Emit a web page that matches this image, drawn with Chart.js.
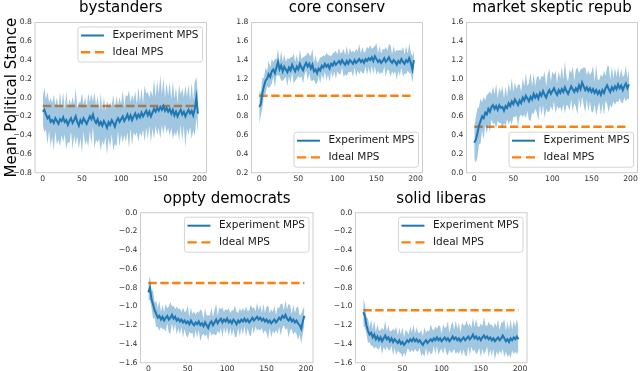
<!DOCTYPE html>
<html>
<head>
<meta charset="utf-8">
<script src="https://cdn.jsdelivr.net/npm/chart.js@4.4.1/dist/chart.umd.min.js"></script>
<style>
  html, body { margin: 0; padding: 0; background: #fff; }
  #wrap { position: relative; width: 640px; height: 371px; }
  #wrap canvas { position: absolute; left: 0; top: 0; }
</style>
</head>
<body>
<div id="wrap"></div>
<script>
// ─── Data ─────────────────────────────────────────────────────
// Simulation step of every sample (x axis)
const steps = [
  0, 2, 4, 6, 8, 10, 12, 14, 16, 18,
  20, 22, 24, 26, 28, 30, 32, 34, 36, 38,
  40, 42, 44, 46, 48, 50, 52, 54, 56, 58,
  60, 62, 64, 66, 68, 70, 72, 74, 76, 78,
  80, 82, 84, 86, 88, 90, 92, 94, 96, 98,
  100, 102, 104, 106, 108, 110, 112, 114, 116, 118,
  120, 122, 124, 126, 128, 130, 132, 134, 136, 138,
  140, 142, 144, 146, 148, 150, 152, 154, 156, 158,
  160, 162, 164, 166, 168, 170, 172, 174, 176, 178,
  180, 182, 184, 186, 188, 190, 192, 194, 196, 198,
];

const xTicks = [0, 50, 100, 150, 200];
const xLimits = [-9.95, 208.95];

// bystanders
const bystandersMean = [
  -0.15,-0.13,-0.18,-0.22,-0.20,-0.26,-0.24,-0.27,-0.22,-0.25,
  -0.28,-0.23,-0.25,-0.21,-0.26,-0.24,-0.29,-0.25,-0.22,-0.27,
  -0.24,-0.20,-0.26,-0.30,-0.24,-0.27,-0.22,-0.25,-0.28,-0.24,
  -0.20,-0.23,-0.18,-0.24,-0.27,-0.23,-0.29,-0.26,-0.30,-0.25,
  -0.28,-0.32,-0.26,-0.29,-0.24,-0.27,-0.31,-0.25,-0.22,-0.26,
  -0.23,-0.20,-0.25,-0.22,-0.18,-0.23,-0.19,-0.24,-0.20,-0.17,
  -0.22,-0.18,-0.21,-0.16,-0.20,-0.17,-0.14,-0.19,-0.15,-0.20,
  -0.16,-0.12,-0.15,-0.11,-0.14,-0.10,-0.13,-0.09,-0.14,-0.11,
  -0.15,-0.12,-0.17,-0.13,-0.19,-0.15,-0.20,-0.16,-0.13,-0.18,
  -0.15,-0.20,-0.16,-0.13,-0.17,-0.14,-0.19,-0.12, 0.00,-0.17,
];
const bystandersSpread = [
  0.14,0.24,0.16,0.28,0.15,0.26,0.18,0.30,0.14,0.25,
  0.17,0.29,0.15,0.27,0.13,0.31,0.18,0.24,0.14,0.28,
  0.16,0.30,0.15,0.25,0.19,0.32,0.14,0.26,0.17,0.29,
  0.15,0.27,0.13,0.30,0.18,0.25,0.15,0.31,0.16,0.26,
  0.14,0.29,0.17,0.24,0.15,0.30,0.18,0.27,0.14,0.26,
  0.16,0.28,0.15,0.25,0.19,0.31,0.14,0.27,0.17,0.24,
  0.15,0.29,0.16,0.26,0.14,0.30,0.18,0.25,0.15,0.28,
  0.17,0.32,0.15,0.29,0.18,0.34,0.16,0.30,0.14,0.27,
  0.17,0.29,0.15,0.31,0.18,0.26,0.14,0.30,0.16,0.28,
  0.15,0.33,0.17,0.27,0.14,0.30,0.16,0.29,0.22,0.20,
];
const bystandersIdeal = -0.09;
const bystandersYTicks = [-0.8, -0.6, -0.4, -0.2, 0.0, 0.2, 0.4, 0.6, 0.8];

// core conserv
const coreMean = [
  0.90,0.93,1.05,1.12,1.18,1.20,1.25,1.22,1.28,1.30,
  1.26,1.32,1.38,1.30,1.34,1.28,1.33,1.30,1.27,1.32,
  1.29,1.35,1.31,1.28,1.33,1.30,1.36,1.32,1.29,1.34,
  1.37,1.33,1.36,1.31,1.35,1.28,1.30,1.26,1.31,1.29,
  1.34,1.32,1.36,1.33,1.35,1.31,1.36,1.34,1.38,1.35,
  1.37,1.39,1.36,1.40,1.37,1.35,1.39,1.36,1.40,1.38,
  1.36,1.40,1.37,1.39,1.41,1.38,1.40,1.37,1.41,1.39,
  1.42,1.40,1.43,1.39,1.44,1.41,1.38,1.40,1.37,1.39,
  1.42,1.38,1.40,1.43,1.39,1.37,1.40,1.38,1.35,1.39,
  1.37,1.41,1.38,1.36,1.40,1.38,1.42,1.37,1.30,1.40,
];
const coreSpread = [
  0.18,0.12,0.16,0.09,0.14,0.08,0.15,0.10,0.13,0.08,
  0.15,0.09,0.14,0.07,0.16,0.10,0.13,0.08,0.15,0.09,
  0.14,0.08,0.16,0.10,0.13,0.07,0.15,0.09,0.14,0.10,
  0.08,0.15,0.10,0.13,0.17,0.09,0.15,0.11,0.08,0.14,
  0.09,0.13,0.08,0.15,0.10,0.14,0.08,0.13,0.10,0.15,
  0.09,0.14,0.11,0.08,0.15,0.10,0.16,0.09,0.13,0.10,
  0.14,0.08,0.15,0.10,0.16,0.09,0.14,0.11,0.08,0.15,
  0.10,0.16,0.09,0.14,0.11,0.17,0.09,0.15,0.10,0.13,
  0.09,0.16,0.10,0.14,0.17,0.09,0.15,0.10,0.16,0.11,
  0.14,0.09,0.16,0.10,0.15,0.09,0.16,0.11,0.14,0.10,
];
const coreIdeal = 1.02;
const coreYTicks = [0.2, 0.4, 0.6, 0.8, 1.0, 1.2, 1.4, 1.6, 1.8];

// market skeptic repub
const marketMean = [
  0.32,0.35,0.42,0.50,0.55,0.60,0.58,0.64,0.62,0.68,
  0.65,0.70,0.72,0.68,0.71,0.67,0.72,0.69,0.70,0.66,
  0.71,0.69,0.74,0.71,0.76,0.73,0.78,0.75,0.72,0.77,
  0.74,0.80,0.77,0.82,0.79,0.76,0.81,0.78,0.84,0.80,
  0.83,0.79,0.85,0.82,0.87,0.83,0.80,0.85,0.88,0.84,
  0.87,0.90,0.86,0.83,0.88,0.85,0.89,0.86,0.91,0.87,
  0.84,0.88,0.92,0.89,0.86,0.90,0.87,0.93,0.89,0.96,
  0.92,0.88,0.91,0.87,0.90,0.86,0.89,0.85,0.88,0.84,
  0.87,0.83,0.88,0.85,0.90,0.93,0.89,0.86,0.91,0.88,
  0.92,0.89,0.94,0.90,0.93,0.88,0.92,0.95,0.90,0.94,
];
const marketSpread = [
  0.18,0.24,0.26,0.20,0.24,0.15,0.23,0.13,0.21,0.16,
  0.22,0.13,0.20,0.15,0.24,0.12,0.19,0.16,0.23,0.13,
  0.21,0.12,0.22,0.15,0.25,0.13,0.19,0.14,0.22,0.17,
  0.12,0.21,0.15,0.24,0.13,0.20,0.26,0.14,0.22,0.12,
  0.19,0.24,0.13,0.21,0.15,0.25,0.12,0.20,0.23,0.13,
  0.21,0.14,0.23,0.12,0.20,0.15,0.24,0.13,0.28,0.15,
  0.13,0.22,0.14,0.24,0.12,0.20,0.25,0.13,0.21,0.15,
  0.20,0.24,0.13,0.22,0.14,0.21,0.25,0.12,0.27,0.15,
  0.12,0.22,0.14,0.24,0.13,0.20,0.25,0.13,0.22,0.12,
  0.20,0.13,0.19,0.11,0.18,0.14,0.12,0.19,0.11,0.16,
];
const marketIdeal = 0.49;
const marketYTicks = [0.0, 0.2, 0.4, 0.6, 0.8, 1.0, 1.2, 1.4, 1.6];

// oppty democrats
const opptyMean = [
  -0.85,-0.80,-0.92,-0.98,-1.04,-1.08,-1.12,-1.10,-1.14,-1.11,
  -1.15,-1.12,-1.10,-1.14,-1.12,-1.09,-1.13,-1.11,-1.15,-1.13,
  -1.16,-1.14,-1.17,-1.15,-1.18,-1.16,-1.19,-1.15,-1.18,-1.20,
  -1.17,-1.19,-1.16,-1.20,-1.18,-1.21,-1.17,-1.20,-1.23,-1.18,
  -1.16,-1.20,-1.17,-1.14,-1.18,-1.15,-1.13,-1.17,-1.14,-1.16,
  -1.13,-1.17,-1.15,-1.18,-1.14,-1.16,-1.19,-1.15,-1.17,-1.14,
  -1.16,-1.13,-1.16,-1.14,-1.17,-1.15,-1.12,-1.15,-1.13,-1.11,
  -1.14,-1.12,-1.15,-1.13,-1.16,-1.14,-1.17,-1.15,-1.18,-1.16,
  -1.14,-1.17,-1.15,-1.12,-1.14,-1.10,-1.12,-1.09,-1.13,-1.15,
  -1.12,-1.16,-1.14,-1.17,-1.15,-1.18,-1.20,-1.24,-1.16,-1.10,
];
const opptySpread = [
  0.08,0.13,0.09,0.15,0.08,0.14,0.10,0.16,0.08,0.13,
  0.09,0.15,0.08,0.14,0.17,0.09,0.14,0.08,0.15,0.10,
  0.14,0.08,0.16,0.09,0.13,0.17,0.08,0.14,0.10,0.15,
  0.08,0.14,0.09,0.17,0.13,0.08,0.15,0.10,0.14,0.08,
  0.15,0.09,0.13,0.17,0.08,0.14,0.10,0.16,0.08,0.13,
  0.09,0.15,0.08,0.14,0.10,0.17,0.13,0.08,0.15,0.09,
  0.14,0.08,0.16,0.09,0.13,0.17,0.10,0.14,0.08,0.15,
  0.10,0.14,0.08,0.16,0.09,0.14,0.18,0.08,0.15,0.10,
  0.15,0.08,0.14,0.10,0.17,0.13,0.08,0.16,0.10,0.18,
  0.13,0.08,0.16,0.10,0.14,0.18,0.10,0.16,0.13,0.10,
];
const opptyIdeal = -0.75;
const opptyYTicks = [-1.6, -1.4, -1.2, -1.0, -0.8, -0.6, -0.4, -0.2, 0.0];

// solid liberas
const solidMean = [
  -1.06,-1.10,-1.20,-1.26,-1.30,-1.28,-1.33,-1.30,-1.35,-1.32,
  -1.36,-1.33,-1.37,-1.34,-1.31,-1.35,-1.33,-1.37,-1.34,-1.38,
  -1.35,-1.37,-1.39,-1.36,-1.40,-1.38,-1.41,-1.39,-1.36,-1.38,
  -1.35,-1.37,-1.34,-1.37,-1.35,-1.38,-1.36,-1.39,-1.41,-1.38,
  -1.36,-1.39,-1.37,-1.35,-1.37,-1.34,-1.36,-1.33,-1.36,-1.34,
  -1.37,-1.35,-1.33,-1.36,-1.34,-1.37,-1.35,-1.32,-1.35,-1.33,
  -1.36,-1.34,-1.37,-1.35,-1.33,-1.36,-1.34,-1.32,-1.35,-1.33,
  -1.30,-1.34,-1.32,-1.35,-1.33,-1.36,-1.33,-1.31,-1.34,-1.32,
  -1.35,-1.33,-1.36,-1.34,-1.37,-1.35,-1.33,-1.36,-1.34,-1.31,
  -1.34,-1.37,-1.35,-1.38,-1.34,-1.36,-1.33,-1.35,-1.32,-1.35,
];
const solidSpread = [
  0.15,0.12,0.09,0.13,0.08,0.14,0.09,0.15,0.08,0.13,
  0.10,0.08,0.14,0.09,0.16,0.08,0.13,0.10,0.08,0.14,
  0.09,0.15,0.08,0.13,0.10,0.16,0.08,0.14,0.09,0.08,
  0.14,0.09,0.15,0.08,0.13,0.10,0.08,0.14,0.09,0.16,
  0.08,0.14,0.10,0.16,0.13,0.08,0.15,0.09,0.16,0.13,
  0.08,0.16,0.10,0.14,0.18,0.09,0.15,0.16,0.10,0.18,
  0.12,0.17,0.09,0.18,0.13,0.16,0.19,0.11,0.17,0.10,
  0.18,0.12,0.19,0.14,0.11,0.18,0.12,0.20,0.14,0.11,
  0.19,0.13,0.17,0.11,0.20,0.13,0.19,0.11,0.17,0.14,
  0.20,0.11,0.19,0.13,0.21,0.11,0.18,0.13,0.19,0.12,
];
const solidIdeal = -1.04;
const solidYTicks = [-1.6, -1.4, -1.2, -1.0, -0.8, -0.6, -0.4, -0.2, 0.0];

const seriesLabels = ['Experiment MPS', 'Ideal MPS'];
const yAxisTitle = 'Mean Political Stance';

// ─── Layout (plot-area pixel boxes) ───────────────────────────

const FONT = '"DejaVu Sans", sans-serif';
const BLUE = '#1f77b4';
const ORANGE = '#ff7f0e';
const Y_W = 30, X_H = 14;

const panels = [
  { title: 'bystanders',           mean: bystandersMean, spread: bystandersSpread, ideal: bystandersIdeal, yTicks: bystandersYTicks,
    box: [35, 22.5, 206.5, 172.7],  titleY: 8.5,   legend: 'ur', yTitle: true },
  { title: 'core conserv',         mean: coreMean,       spread: coreSpread,       ideal: coreIdeal,       yTicks: coreYTicks,
    box: [251.5, 22.5, 422.5, 172.7], titleY: 8.5, legend: 'lr' },
  { title: 'market skeptic repub', mean: marketMean,     spread: marketSpread,     ideal: marketIdeal,     yTicks: marketYTicks,
    box: [466.5, 22.5, 638, 172.7], titleY: 8.5,   legend: 'lr' },
  { title: 'oppty democrats',      mean: opptyMean,      spread: opptySpread,      ideal: opptyIdeal,      yTicks: opptyYTicks,
    box: [140.5, 212.7, 313, 362.7], titleY: 199.5, legend: 'ur' },
  { title: 'solid liberas',        mean: solidMean,      spread: solidSpread,      ideal: solidIdeal,      yTicks: solidYTicks,
    box: [355.5, 212.7, 527, 362.7], titleY: 199.5, legend: 'ur' },
];

// ── Plugins: axes frame + boxed legend inside the plot ────────

const framePlugin = {
  id: 'frame',
  afterDatasetsDraw(chart) {
    const { ctx, chartArea: a } = chart;
    ctx.save();
    ctx.strokeStyle = '#cccccc';
    ctx.lineWidth = 1;
    ctx.strokeRect(a.left, a.top, a.right - a.left, a.bottom - a.top);
    ctx.restore();
  },
};

const boxLegend = {
  id: 'boxLegend',
  afterDraw(chart, args, opts) {
    const { ctx, chartArea: a } = chart;
    const items = chart.data.datasets.filter(d => d.label);
    ctx.save();
    ctx.font = '10.5px ' + FONT;
    const textW = Math.max(...items.map(d => ctx.measureText(d.label).width));
    const w = 3 + 23 + 8.5 + textW + 4, h = 35;
    const x = a.right - 4 - w;
    const y = opts.corner === 'lr' ? a.bottom - 5.5 - h : a.top + 4.5;

    ctx.beginPath();
    if (ctx.roundRect) ctx.roundRect(x, y, w, h, 2.5); else ctx.rect(x, y, w, h);
    ctx.fillStyle = 'rgba(255,255,255,0.8)';
    ctx.fill();
    ctx.strokeStyle = '#d4d4d4';
    ctx.lineWidth = 1;
    ctx.stroke();

    items.forEach((d, i) => {
      const cy = y + 8.5 + i * 16.7;
      ctx.beginPath();
      ctx.setLineDash(d.borderDash ? [9.3, 4.7] : []);
      ctx.strokeStyle = d.borderColor;
      ctx.lineWidth = d.borderWidth;
      ctx.moveTo(x + 3, cy);
      ctx.lineTo(x + 26, cy);
      ctx.stroke();
      ctx.setLineDash([]);
      ctx.fillStyle = '#1a1a1a';
      ctx.textBaseline = 'middle';
      ctx.textAlign = 'left';
      ctx.fillText(d.label, x + 34.5, cy);
    });
    ctx.restore();
  },
};

// ── Build one chart per panel ─────────────────────────────────

const fmtTick = v => v.toFixed(1).replace('-', '\u2212');

function makePanel(p) {
  const canvas = document.createElement('canvas');
  canvas.width = 640;
  canvas.height = 371;
  document.getElementById('wrap').appendChild(canvas);

  const [L, T, R, B] = p.box;
  const padTop = p.titleY - 6;
  const titleGap = T - padTop - 12;

  const lower = p.mean.map((m, i) => ({ x: steps[i], y: m - p.spread[i] }));
  const upper = p.mean.map((m, i) => ({ x: steps[i], y: m + p.spread[i] }));
  const line  = p.mean.map((m, i) => ({ x: steps[i], y: m }));
  const ideal = [{ x: steps[0], y: p.ideal }, { x: steps[steps.length - 1], y: p.ideal }];

  return new Chart(canvas, {
    type: 'line',
    data: {
      datasets: [
        { data: lower, borderWidth: 0, pointRadius: 0, fill: false },
        { data: upper, borderWidth: 0, pointRadius: 0, fill: '-1', backgroundColor: 'rgba(31,119,180,0.42)' },
        { label: seriesLabels[0], data: line, borderColor: BLUE, borderWidth: 2, pointRadius: 0, fill: false },
        { label: seriesLabels[1], data: ideal, borderColor: ORANGE, borderWidth: 2.4, borderDash: [8.4, 3.5],
          pointRadius: 0, fill: false },
      ],
    },
    options: {
      responsive: false,
      animation: false,
      events: [],
      layout: { padding: { left: L - Y_W, right: 640 - R, top: padTop, bottom: 371 - B - X_H } },
      plugins: {
        legend: { display: false },
        tooltip: { enabled: false },
        title: {
          display: true, text: p.title, color: '#000', fullSize: false,
          font: { family: FONT, size: 15, weight: 'normal', lineHeight: 0.8 },
          padding: { top: 0, bottom: titleGap },
        },
        boxLegend: { corner: p.legend },
      },
      scales: {
        x: {
          type: 'linear', min: xLimits[0], max: xLimits[1],
          grid: { display: false, drawTicks: false },
          border: { display: false },
          afterBuildTicks: s => { s.ticks = xTicks.map(v => ({ value: v })); },
          afterFit: s => { s.height = X_H; },
          ticks: { color: '#333', padding: 2, maxRotation: 0, autoSkip: false,
                   font: { family: FONT, size: 7.7, lineHeight: 1 }, callback: v => String(v) },
        },
        y: {
          min: p.yTicks[0], max: p.yTicks[p.yTicks.length - 1],
          grid: { display: false, drawTicks: false },
          border: { display: false },
          afterBuildTicks: s => { s.ticks = p.yTicks.map(v => ({ value: v })); },
          afterFit: s => { s.width = Y_W; },
          ticks: { color: '#333', padding: 3, autoSkip: false,
                   font: { family: FONT, size: 7.7, lineHeight: 1 }, callback: v => fmtTick(v) },
          title: { display: !!p.yTitle, text: yAxisTitle, color: '#000', padding: 0,
                   font: { family: FONT, size: 15, lineHeight: 1 } },
        },
      },
    },
    plugins: [framePlugin, boxLegend],
  });
}

panels.forEach(makePanel);
</script>
</body>
</html>
